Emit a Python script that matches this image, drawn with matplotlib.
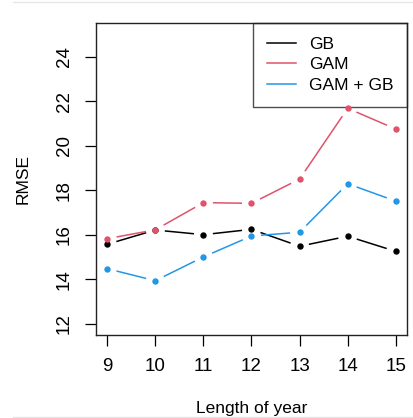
import numpy as np
import matplotlib
matplotlib.use("Agg")
import matplotlib.pyplot as plt
from matplotlib.lines import Line2D

plt.rcParams['font.family'] = ['Liberation Sans', 'DejaVu Sans']

years = [9, 10, 11, 12, 13, 14, 15]
gb = [15.57, 16.21, 16.00, 16.24, 15.48, 15.93, 15.25]
gam = [15.82, 16.22, 17.44, 17.41, 18.50, 21.68, 20.75]
gam_gb = [14.47, 13.93, 15.00, 15.94, 16.11, 18.29, 17.51]
series_names = ["GB", "GAM", "GAM + GB"]
colors = ["black", "#DF536B", "#2297E6"]
yticks = [12, 14, 16, 18, 20, 22, 24]

W, H = 414, 418
fig = plt.figure(figsize=(W / 100, H / 100), dpi=100)
ax = fig.add_axes([95.7 / W, 1 - 335 / H, (407.3 - 95.7) / W, (335 - 22.7) / H])
ax.set_xlim(8.76, 15.24)
ax.set_ylim(11.49, 25.53)
ax.set_autoscale_on(False)
fig.canvas.draw()

gap = 9.5  # px gap around points (R type="b")


def draw_b(x, y, color):
    tr = ax.transData
    pts = tr.transform(np.column_stack([x, y]))
    inv = tr.inverted()
    for i in range(len(pts) - 1):
        p0, p1 = pts[i], pts[i + 1]
        d = p1 - p0
        L = np.hypot(d[0], d[1])
        if L <= 2 * gap:
            continue
        u = d / L
        a = inv.transform(np.array([p0 + u * gap, p1 - u * gap]))
        ax.add_line(Line2D(a[:, 0], a[:, 1], color=color, lw=1.1, solid_capstyle='butt'))
    ax.plot(x, y, linestyle='none', marker='o', color=color, ms=4.6, mec='none')


for vals, c in zip([gb, gam, gam_gb], colors):
    draw_b(years, vals, c)

ax.set_xlim(8.76, 15.24)
ax.set_ylim(11.49, 25.53)
ax.set_xticks(years)
ax.set_yticks(yticks)
ax.tick_params(axis='both', direction='out', length=7.7, width=0.9, labelsize=13.5)
ax.tick_params(axis='x', pad=9)
ax.tick_params(axis='y', pad=9)
for lab in ax.get_yticklabels():
    lab.set_rotation(90)
    lab.set_va('center')
for s in ax.spines.values():
    s.set_linewidth(1.0)
    s.set_color('#222222')

ax.set_xlabel("Length of year", fontsize=12.5)
ax.xaxis.set_label_coords(0.5, (1 - 409 / H - (1 - 335 / H)) / ((335 - 22.7) / H), transform=ax.transAxes)
ax.xaxis.label.set_va('center')
ax.set_ylabel("RMSE", fontsize=12.5)
ax.yaxis.set_label_coords((23.5 - 95.7) / (407.3 - 95.7), 0.5)
ax.yaxis.label.set_va('center')

handles = [Line2D([0], [0], color=c, lw=1.1) for c in colors]
leg = ax.legend(handles, series_names, loc='upper right', fontsize=12.5,
                frameon=True, fancybox=False, borderaxespad=0, handlelength=1.72,
                handletextpad=0.72, labelspacing=0.32, borderpad=0.8)
leg.get_frame().set_edgecolor('#222222')
leg.get_frame().set_linewidth(1.0)
leg.set_zorder(1.5)

fig.add_artist(Line2D([13 / W, 1], [1 - 2.3 / H, 1 - 2.3 / H], color='#e6e6e6', lw=1))
fig.add_artist(Line2D([13 / W, 1], [1 - 416.7 / H, 1 - 416.7 / H], color='#e6e6e6', lw=1))

fig.savefig("out.png", dpi=100)
